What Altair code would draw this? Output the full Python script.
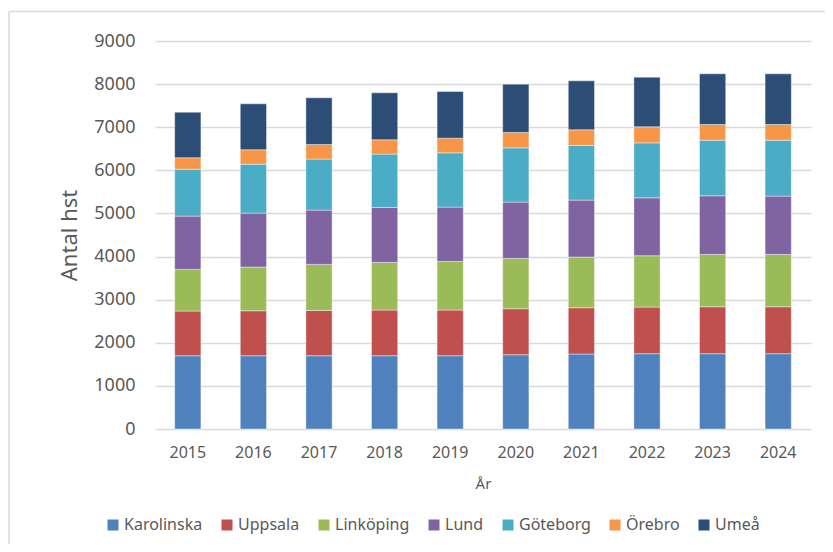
import altair as alt
import pandas as pd

years = ["2015", "2016", "2017", "2018", "2019", "2020", "2021", "2022", "2023", "2024"]
series = ["Karolinska", "Uppsala", "Linköping", "Lund", "Göteborg", "Örebro", "Umeå"]
colors = ["#4F81BD", "#C0504D", "#9BBB59", "#8064A2", "#4BACC6", "#F79646", "#2C4D75"]

karolinska = [1700, 1700, 1700, 1700, 1700, 1723, 1739, 1747, 1747, 1747]
uppsala    = [1036, 1043, 1051, 1059, 1059, 1067, 1074, 1081, 1089, 1089]
linkoping  = [966, 1013, 1067, 1105, 1128, 1167, 1175, 1191, 1213, 1213]
lund       = [1236, 1252, 1259, 1275, 1260, 1306, 1321, 1344, 1361, 1353]
goteborg   = [1090, 1136, 1183, 1237, 1259, 1259, 1268, 1275, 1290, 1298]
orebro     = [263, 332, 340, 332, 340, 356, 363, 371, 363, 363]
umea       = [1058, 1067, 1082, 1090, 1082, 1120, 1136, 1152, 1175, 1175]

values = [karolinska, uppsala, linkoping, lund, goteborg, orebro, umea]
rows = []
for si, (name, vals) in enumerate(zip(series, values)):
    for y, v in zip(years, vals):
        rows.append({"År": y, "Sjukhus": name, "Antal": v, "ordning": si})
df = pd.DataFrame(rows)

txt = "#595959"
font = "Noto Sans"

bars = alt.Chart(df).mark_bar(stroke="white", strokeWidth=0.6, strokeOpacity=0.7).encode(
    x=alt.X("År:N", sort=years,
            scale=alt.Scale(paddingInner=0.6, paddingOuter=0.3),
            axis=alt.Axis(title="År", labelAngle=0, labelFontSize=16, labelColor=txt,
                          labelFont=font, titleFont=font, titleFontSize=15,
                          titleFontWeight="normal", titleColor=txt, titlePadding=16,
                          ticks=False, domain=False, grid=False, labelPadding=15)),
    y=alt.Y("Antal:Q", stack="zero",
            scale=alt.Scale(domain=[0, 9000], nice=False),
            axis=alt.Axis(title="Antal hst", values=list(range(0, 9001, 1000)), format="d",
                          labelFontSize=18, labelColor=txt, labelFont=font,
                          titleFont=font, titleFontSize=22, titleFontWeight="normal",
                          titleColor=txt, titleAngle=-90, titleX=-86, titleY=194,
                          titleAlign="center", titleBaseline="middle",
                          ticks=False, domain=False, labelPadding=20,
                          grid=True, gridColor="#D9D9D9", gridWidth=1.3)),
    color=alt.Color("Sjukhus:N", sort=series,
                    scale=alt.Scale(domain=series, range=colors),
                    legend=alt.Legend(title=None, orient="none", direction="horizontal",
                                      legendX=-50, legendY=476, columns=7,
                                      symbolType="square", symbolSize=121,
                                      symbolStrokeWidth=0, labelFontSize=16,
                                      labelFont=font, labelColor=txt, labelOffset=3,
                                      columnPadding=16, padding=0)),
    order=alt.Order("ordning:Q", sort="ascending"),
)

border = alt.Chart(pd.DataFrame({"k": [0]})).mark_rule(color="#D9D9D9", strokeWidth=1.5).encode(
    x=alt.value(-146), x2=alt.value(700), y=alt.value(-29.5)
)
border2 = alt.Chart(pd.DataFrame({"k": [0]})).mark_rule(color="#D9D9D9", strokeWidth=1.5).encode(
    x=alt.value(-146), y=alt.value(-29.5), y2=alt.value(520)
)

chart = alt.layer(bars, border, border2).properties(
    width=656, height=388,
    autosize=alt.AutoSizeParams(type="none"),
    padding={"left": 147, "top": 33, "right": 14, "bottom": 115},
).configure_view(stroke=None)

chart.save("out.html", embed_options={"renderer": "svg", "actions": False})
